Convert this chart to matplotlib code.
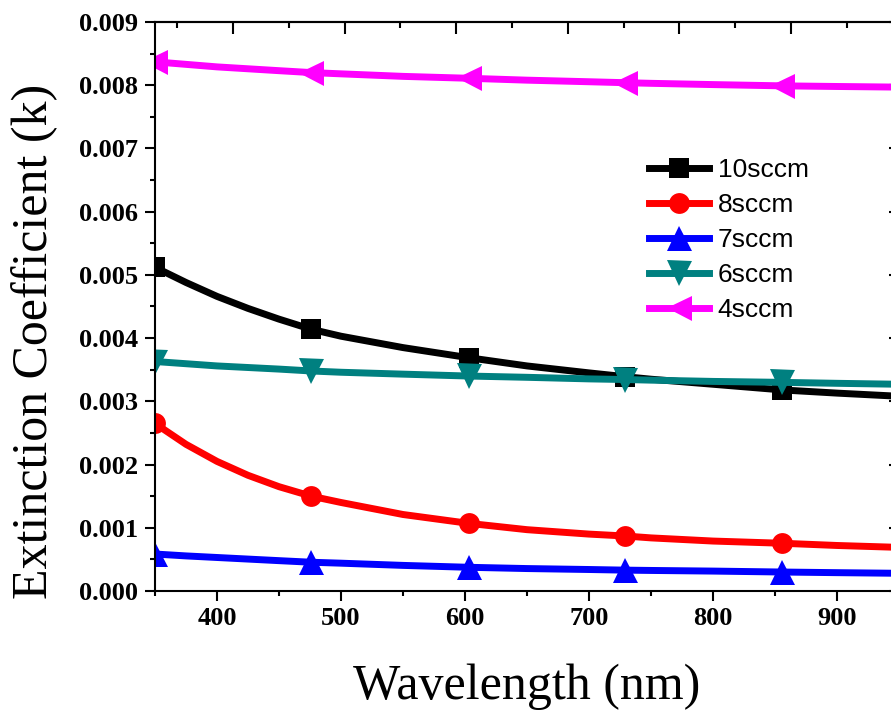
import matplotlib
matplotlib.use("Agg")
import matplotlib.pyplot as plt
import numpy as np
from matplotlib.ticker import MultipleLocator, FormatStrFormatter

# 波长 (nm) 与各流量下的消光系数 (单位 1e-3)
wavelength = [350, 375, 400, 425, 450, 476, 500, 550, 603, 650, 700, 729, 750, 800, 856, 900, 950]
marker_idx = [0, 5, 8, 11, 14]

k_10sccm = [5.12, 4.88, 4.66, 4.47, 4.30, 4.14, 4.03, 3.85, 3.69, 3.56, 3.45, 3.39, 3.35, 3.27, 3.18, 3.13, 3.08]
k_8sccm = [2.65, 2.32, 2.05, 1.83, 1.65, 1.50, 1.40, 1.21, 1.07, 0.97, 0.90, 0.87, 0.84, 0.79, 0.755, 0.72, 0.69]
k_7sccm = [0.585, 0.555, 0.53, 0.505, 0.48, 0.455, 0.44, 0.405, 0.375, 0.355, 0.34, 0.33, 0.325, 0.315, 0.30, 0.29, 0.28]
k_6sccm = [3.63, 3.595, 3.56, 3.535, 3.51, 3.48, 3.46, 3.43, 3.40, 3.38, 3.355, 3.345, 3.335, 3.315, 3.30, 3.285, 3.27]
k_4sccm = [8.37, 8.33, 8.29, 8.26, 8.23, 8.20, 8.18, 8.14, 8.11, 8.08, 8.055, 8.04, 8.03, 8.01, 7.99, 7.98, 7.97]

series = [
    ("10sccm", k_10sccm, "black", "s", 15),
    ("8sccm", k_8sccm, "#ff0000", "o", 15),
    ("7sccm", k_7sccm, "#0000ff", "^", 18),
    ("6sccm", k_6sccm, "#008080", "v", 18),
    ("4sccm", k_4sccm, "#ff00ff", "<", 18),
]

fig = plt.figure(figsize=(8.91, 7.14), dpi=100)
ax = fig.add_axes((155 / 891, 123 / 714, 744 / 891, 569 / 714))

for label, vals, color, marker, ms in series:
    ax.plot(wavelength, np.array(vals) * 1e-3, color=color, lw=5,
            marker=marker, markersize=ms, markevery=marker_idx,
            markeredgewidth=0, label=label, solid_joinstyle="round")

ax.set_xlim(350, 950)
ax.set_ylim(0, 0.009)
ax.xaxis.set_major_locator(MultipleLocator(100))
ax.xaxis.set_minor_locator(MultipleLocator(50))
ax.yaxis.set_major_locator(MultipleLocator(0.001))
ax.yaxis.set_minor_locator(MultipleLocator(0.0005))
ax.yaxis.set_major_formatter(FormatStrFormatter("%.3f"))

tick_font = {"family": "Liberation Serif", "weight": "bold", "size": 19}
ax.tick_params(which="major", direction="out", length=7.5, width=1.5, pad=4)
ax.tick_params(which="minor", direction="out", length=3.5, width=1.5)
ax.tick_params(axis="y", pad=5)
for lab in ax.get_xticklabels() + ax.get_yticklabels():
    lab.set_fontproperties(tick_font)
    lab.set_fontsize(19)
for sp in ax.spines.values():
    sp.set_linewidth(1.5)

# 上方坐标轴 (刻度与下方不同)
top = ax.secondary_xaxis("top", functions=(lambda x: 330 + (x - 350) * 1.1113,
                                           lambda t: 350 + (t - 330) / 1.1113))
top.xaxis.set_major_locator(MultipleLocator(100))
top.xaxis.set_minor_locator(MultipleLocator(50))
top.tick_params(which="major", direction="in", length=8.5, width=1.5, labeltop=False)
top.tick_params(which="minor", direction="in", length=4.5, width=1.5)
top.spines["top"].set_linewidth(1.5)

right = ax.secondary_yaxis("right")
right.yaxis.set_major_locator(MultipleLocator(0.001))
right.yaxis.set_minor_locator(MultipleLocator(1))
right.tick_params(which="major", direction="in", length=7.5, width=1.5, labelright=False)
right.spines["right"].set_linewidth(1.5)

ax.set_xlabel("Wavelength (nm)", family="Liberation Serif", fontsize=36, labelpad=24)
ax.set_ylabel("Extinction Coefficient (k)", family="Liberation Serif", fontsize=36)
ax.yaxis.set_label_coords(-0.130, 0.439)

ax.legend(loc="upper left", bbox_to_anchor=(649 / 891, 1 - 158 / 714),
          bbox_transform=fig.transFigure, frameon=False, borderpad=0,
          borderaxespad=0, labelspacing=0.42, handlelength=2.27,
          handletextpad=0.34, prop={"family": "Liberation Sans", "size": 19})

fig.savefig("out.png", dpi=100)
